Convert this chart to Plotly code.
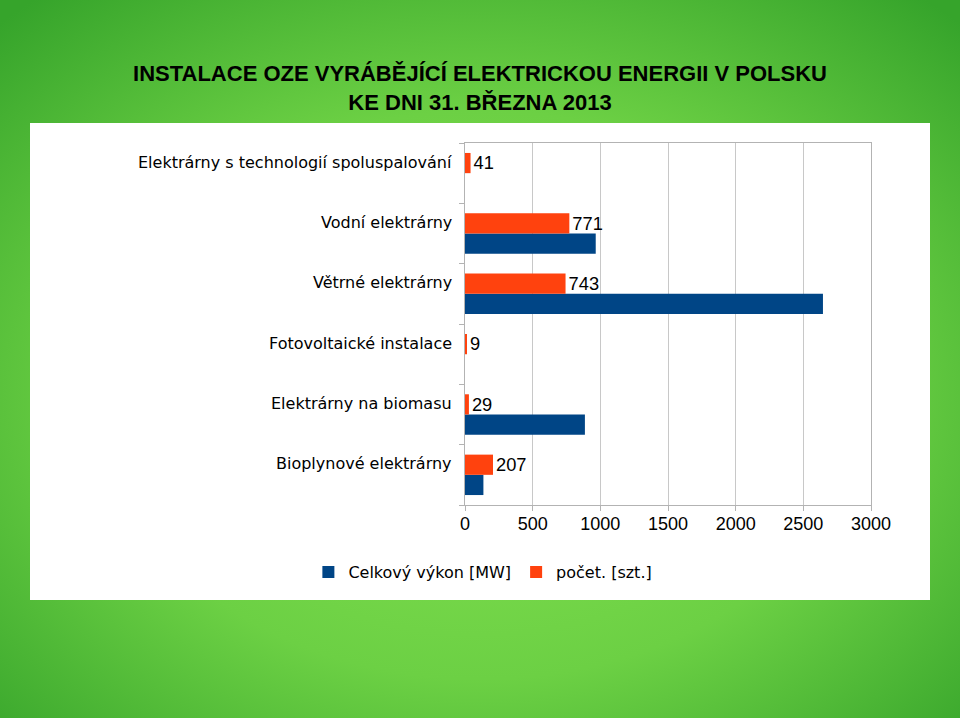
import base64
import plotly.graph_objects as go

# categories listed bottom -> top (plotly draws the first category at the bottom)
categories = [
    "Bioplynové elektrárny",
    "Elektrárny na biomasu",
    "Fotovoltaické instalace",
    "Větrné elektrárny",
    "Vodní elektrárny",
    "Elektrárny s technologií spoluspalování",
]
vykon_mw = [136, 886, None, 2645, 966, None]
pocet_szt = [207, 29, 9, 743, 771, 41]

x_ticks = [0, 500, 1000, 1500, 2000, 2500, 3000]

W, H = 960, 718
L, R, T, B = 465, 89, 143, 213
pw, ph = W - L - R, H - T - B

bg_svg = f"""<svg xmlns="http://www.w3.org/2000/svg" width="{W}" height="{H}">
<defs><radialGradient id="g" cx="50%" cy="55%" r="72%">
<stop offset="0" stop-color="#85e351"/>
<stop offset="0.55" stop-color="#6cd044"/>
<stop offset="1" stop-color="#36a42b"/>
</radialGradient></defs>
<rect width="{W}" height="{H}" fill="url(#g)"/>
<rect x="30" y="123" width="900" height="477" fill="#ffffff"/>
</svg>"""
bg_uri = "data:image/svg+xml;base64," + base64.b64encode(bg_svg.encode("utf-8")).decode()

fig = go.Figure()
fig.add_trace(go.Bar(
    y=categories, x=vykon_mw, orientation="h",
    name="Celkový výkon [MW]",
    marker=dict(color="#004586", line=dict(width=0)),
))
fig.add_trace(go.Bar(
    y=categories, x=pocet_szt, orientation="h",
    name="počet. [szt.]",
    marker=dict(color="#ff420e", line=dict(width=0)),
    text=pocet_szt, textposition="outside", cliponaxis=False,
    textfont=dict(family="Liberation Sans, Arial", size=19, color="#000000"),
))

# category labels sit level with the orange bars, so they are drawn as annotations
for c in categories:
    fig.add_annotation(
        x=0, xref="paper", xanchor="right", xshift=-11,
        y=c, yref="y", yanchor="middle", yshift=11,
        text=c, showarrow=False,
        font=dict(family="DejaVu Sans", size=16, color="#000000"),
    )

fig.update_layout(
    width=W, height=H,
    margin=dict(l=L, r=R, t=T, b=B),
    paper_bgcolor="rgba(0,0,0,0)",
    plot_bgcolor="rgba(0,0,0,0)",
    barmode="group", bargap=0.33, bargroupgap=0,
    showlegend=True,
    legend=dict(
        orientation="h", xref="container", yref="container",
        x=0.503, xanchor="center", y=(H - 572) / H, yanchor="middle",
        font=dict(family="DejaVu Sans", size=16, color="#000000"),
        bgcolor="rgba(0,0,0,0)",
    ),
    title=dict(
        text="INSTALACE OZE VYRÁBĚJÍCÍ ELEKTRICKOU ENERGII V POLSKU<br>KE DNI 31. BŘEZNA 2013",
        xref="container", yref="container", x=0.5, xanchor="center",
        y=(H - 81) / H, yanchor="middle",
        font=dict(family="Liberation Sans, Arial", size=22, color="#000000", weight="bold"),
    ),
    images=[dict(
        source=bg_uri, xref="paper", yref="paper",
        x=-L / pw, y=1 + T / ph, sizex=W / pw, sizey=H / ph,
        xanchor="left", yanchor="top", sizing="stretch", layer="below",
    )],
)

fig.update_xaxes(
    range=[0, 3000], tickvals=x_ticks,
    showgrid=True, gridcolor="#c8c8c8", gridwidth=1,
    showline=True, linecolor="#b3b3b3", linewidth=1, mirror=True,
    ticks="outside", ticklen=5, tickcolor="#b3b3b3",
    zeroline=False, ticklabelstandoff=-3,
    tickfont=dict(family="Liberation Sans, Arial", size=18, color="#000000"),
)
fig.update_yaxes(
    categoryorder="array", categoryarray=categories,
    showgrid=False, showticklabels=False,
    showline=True, linecolor="#b3b3b3", linewidth=1, mirror=True,
    ticks="outside", ticklen=5, tickcolor="#b3b3b3", tickson="boundaries",
)

# drop the default 8px body margin so the slide fills the window
fig.write_html(
    "out.html",
    config={"displayModeBar": False},
    post_script="document.body.style.margin='0';",
)
